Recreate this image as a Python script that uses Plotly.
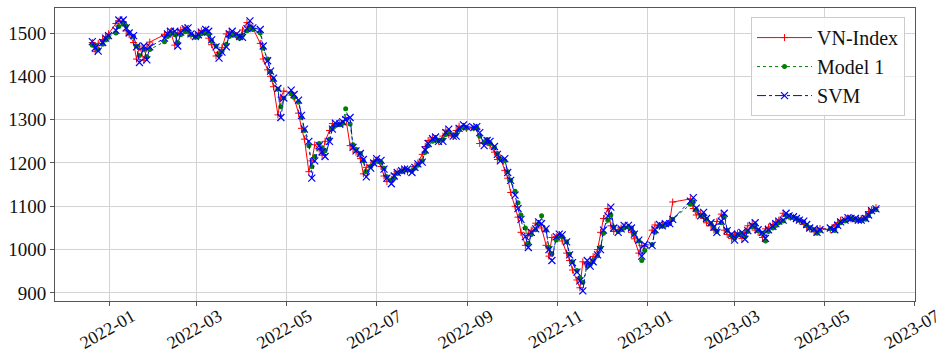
import pandas as pd
import plotly.graph_objects as go

# Weekly rows: values on Monday, Wednesday, Friday (None = market closed / no data)
first_monday = "2021-12-20"
weekday_offsets = [0, 2, 4]

vn_index = [
    [1478, 1457, 1476], [1485, 1491, 1498], [None, 1522, 1528], [1526, 1505, 1496],
    [1478, 1440, 1470], [1437, 1465, 1479], [None, None, None], [1497, 1501, 1503],
    [1472, 1500, 1507], [1512, 1500, 1494], [1492, 1500, 1505], [1507, 1488, 1473],
    [1447, 1455, 1466], [1498, 1503, 1498], [1494, 1490, 1507], [1524, 1515, 1511],
    [None, 1476, 1440], [1415, 1400, 1376], [1311, 1352, 1366], [None, 1362, 1350],
    [1315, 1280, 1255], [1180, 1205, 1242], [1232, 1218, 1250], [1275, 1291, 1287],
    [1292, 1290, 1305], [1240, 1232, 1225], [1210, 1175, 1190], [1195, 1205, 1207],
    [1192, 1170, 1157], [1162, 1175, 1180], [1183, 1186, 1180], [1185, 1192, 1200],
    [1220, 1238, 1252], [1258, 1254, 1250], [1262, 1276, 1265], [1262, 1275, 1285],
    [1283, 1280, None], [1281, 1280, 1245], [1247, 1250, 1240], [1225, 1208, 1212],
    [1183, 1165, 1132], [1100, 1075, 1040], [1010, 1038, 1045], [1061, 1058, 1050],
    [1010, 985, 1028], [1030, 1034, 1020], [992, 975, 953], [930, 912, 972],
    [965, 968, 984], [1000, 1040, 1072], [1095, 1055, 1042], [1045, 1050, 1054],
    [1052, 1040, 1025], [992, 1010, 1007], [None, 1045, 1057], [1055, 1057, 1058],
    [1066, 1110, None], [None, None, None], [1117, 1095, 1080], [1084, 1072, 1062],
    [1055, 1045, 1065], [1082, 1045, 1035], [1026, 1035, 1038], [1026, 1040, 1055],
    [1060, 1045, 1040], [1028, 1048, 1052], [1058, 1064, 1068], [1084, 1078, 1076],
    [1074, 1070, 1066], [1058, 1052, 1048], [1041, 1045, 1049], [None, None, 1046],
    [1057, 1063, 1068], [1070, 1073, 1071], [1069, 1068, 1072], [1078, 1088, 1092],
    [1097, None, None],
]

model_1 = [
    [1472, 1470, 1462], [1474, 1484, 1490], [None, 1500, 1515], [1520, 1516, 1500],
    [1492, 1470, 1448], [1462, 1445, 1462], [None, None, None], [1480, 1492, 1498],
    [1496, 1478, 1496], [1503, 1505, 1496], [1490, 1492, 1498], [1500, 1497, 1482],
    [1470, 1450, 1458], [1474, 1492, 1497], [1493, 1488, 1495], [1505, 1514, 1508],
    [None, 1500, 1465], [1440, 1410, 1392], [1370, 1330, 1350], [None, 1360, 1352],
    [1340, 1305, 1275], [1240, 1192, 1215], [1245, 1235, 1228], [1255, 1280, 1288],
    [1288, 1292, 1325], [1290, 1242, 1232], [1222, 1205, 1180], [1192, 1200, 1205],
    [1202, 1188, 1168], [1160, 1165, 1176], [1180, 1184, 1184], [1182, 1188, 1195],
    [1205, 1225, 1240], [1250, 1256, 1252], [1254, 1266, 1272], [1264, 1266, 1276],
    [1282, 1280, None], [1280, 1282, 1262], [1248, 1254, 1246], [1236, 1222, 1210],
    [1205, 1180, 1160], [1135, 1108, 1080], [1050, 1015, 1035], [1046, 1060, 1078],
    [1045, 1005, 990], [1022, 1032, 1030], [1018, 990, 972], [952, 935, 925],
    [962, 966, 975], [986, 1005, 1038], [1068, 1080, 1052], [1042, 1046, 1050],
    [1052, 1050, 1038], [1020, 975, 998], [None, 1012, 1040], [1055, 1054, 1058],
    [1060, 1070, None], [None, None, None], [1105, 1110, 1092], [1078, 1080, 1070],
    [1060, 1050, 1042], [1062, 1075, 1045], [1034, 1026, 1034], [1036, 1030, 1042],
    [1052, 1058, 1044], [1038, 1020, 1042], [1050, 1056, 1062], [1066, 1080, 1076],
    [1074, 1072, 1068], [1064, 1056, 1050], [1046, 1038, 1044], [None, None, 1048],
    [1044, 1055, 1062], [1066, 1070, 1072], [1070, 1068, 1067], [1070, 1078, 1088],
    [1092, None, None],
]

svm = [
    [1480, 1466, 1458], [1478, 1488, 1494], [None, 1506, 1530], [1530, 1512, 1500],
    [1494, 1468, 1432], [1470, 1438, 1468], [None, None, None], [1488, 1498, 1504],
    [1504, 1470, 1502], [1510, 1512, 1498], [1492, 1496, 1502], [1508, 1504, 1484],
    [1468, 1442, 1456], [1468, 1498, 1504], [1498, 1492, 1490], [1510, 1528, 1512],
    [None, 1508, 1470], [1436, 1412, 1396], [1372, 1305, 1350], [None, 1368, 1358],
    [1345, 1310, 1278], [1250, 1165, 1205], [1240, 1226, 1215], [1250, 1278, 1292],
    [1290, 1295, 1300], [1305, 1236, 1228], [1222, 1208, 1168], [1188, 1200, 1210],
    [1206, 1186, 1165], [1152, 1170, 1178], [1182, 1186, 1186], [1178, 1190, 1198],
    [1202, 1230, 1245], [1256, 1260, 1250], [1250, 1270, 1278], [1262, 1262, 1280],
    [1288, 1284, None], [1282, 1284, 1270], [1240, 1252, 1250], [1238, 1220, 1205],
    [1210, 1178, 1160], [1126, 1095, 1070], [1030, 1005, 1040], [1048, 1064, 1060],
    [1048, 1000, 975], [1030, 1036, 1034], [1018, 988, 970], [948, 928, 905],
    [975, 962, 972], [988, 1000, 1045], [1078, 1098, 1050], [1040, 1048, 1056],
    [1056, 1050, 1036], [1022, 985, 1012], [None, 1010, 1046], [1058, 1055, 1060],
    [1060, 1070, None], [None, None, None], [1112, 1120, 1096], [1078, 1086, 1072],
    [1062, 1052, 1040], [1066, 1084, 1044], [1036, 1022, 1036], [1040, 1024, 1044],
    [1056, 1062, 1046], [1040, 1026, 1046], [1054, 1060, 1066], [1068, 1084, 1078],
    [1076, 1072, 1068], [1066, 1058, 1050], [1048, 1040, 1046], [None, None, 1050],
    [1046, 1056, 1064], [1068, 1074, 1072], [1072, 1068, 1068], [1072, 1080, 1090],
    [1094, None, None],
]

y_ticks = [900, 1000, 1100, 1200, 1300, 1400, 1500]

assert len(vn_index) == len(model_1) == len(svm)

mondays = pd.date_range(first_monday, periods=len(vn_index), freq="7D")
dates = [m + pd.Timedelta(days=o) for m in mondays for o in weekday_offsets]


def flat(rows):
    return [v for row in rows for v in row]


FONT = "Liberation Serif, Times New Roman, serif"

fig = go.Figure()
fig.add_trace(go.Scatter(
    x=dates, y=flat(vn_index), name="VN-Index", mode="lines+markers",
    connectgaps=True,
    line=dict(color="#ff0000", width=1),
    marker=dict(symbol="cross-thin", size=5, line=dict(color="#ff0000", width=1)),
))
fig.add_trace(go.Scatter(
    x=dates, y=flat(model_1), name="Model 1", mode="lines+markers",
    connectgaps=True,
    line=dict(color="#008000", width=1, dash="dot"),
    marker=dict(symbol="circle", size=5, color="#008000"),
))
fig.add_trace(go.Scatter(
    x=dates, y=flat(svm), name="SVM", mode="lines+markers",
    connectgaps=True,
    line=dict(color="#0000ff", width=1, dash="dashdot"),
    marker=dict(symbol="x-thin", size=7, line=dict(color="#0000ff", width=1.2)),
))

axis_common = dict(
    showgrid=True, gridcolor="#d3d3d3", gridwidth=1,
    showline=True, linecolor="#555555", linewidth=1, mirror=True,
    ticks="outside", ticklen=4, tickcolor="#555555",
    zeroline=False, automargin=False,
)

fig.update_xaxes(
    type="date", range=["2021-11-24 16:00", "2023-07-01 12:00"],
    tick0="2022-01-01", dtick="M2", tickformat="%Y-%m",
    tickangle=-30, ticklabelshift=22, ticklabelstandoff=-7,
    ticklabeloverflow="allow",
    tickfont=dict(family=FONT, size=18, color="#111111"),
    **axis_common,
)
fig.update_yaxes(
    range=[881.5, 1557.7], tickmode="array", tickvals=y_ticks,
    tickfont=dict(family=FONT, size=19, color="#111111"),
    **axis_common,
)

fig.update_layout(
    width=944, height=359,
    margin=dict(l=55, r=29, t=8, b=58),
    paper_bgcolor="white", plot_bgcolor="white",
    font=dict(family=FONT, size=19, color="#111111"),
    legend=dict(
        x=0.9884, y=0.969, xanchor="right", yanchor="top",
        bgcolor="rgba(255,255,255,0.85)", bordercolor="#cccccc", borderwidth=1,
        font=dict(family=FONT, size=20, color="#111111"),
        itemwidth=55, tracegroupgap=0,
    ),
    showlegend=True,
)

fig.write_html("out.html")
